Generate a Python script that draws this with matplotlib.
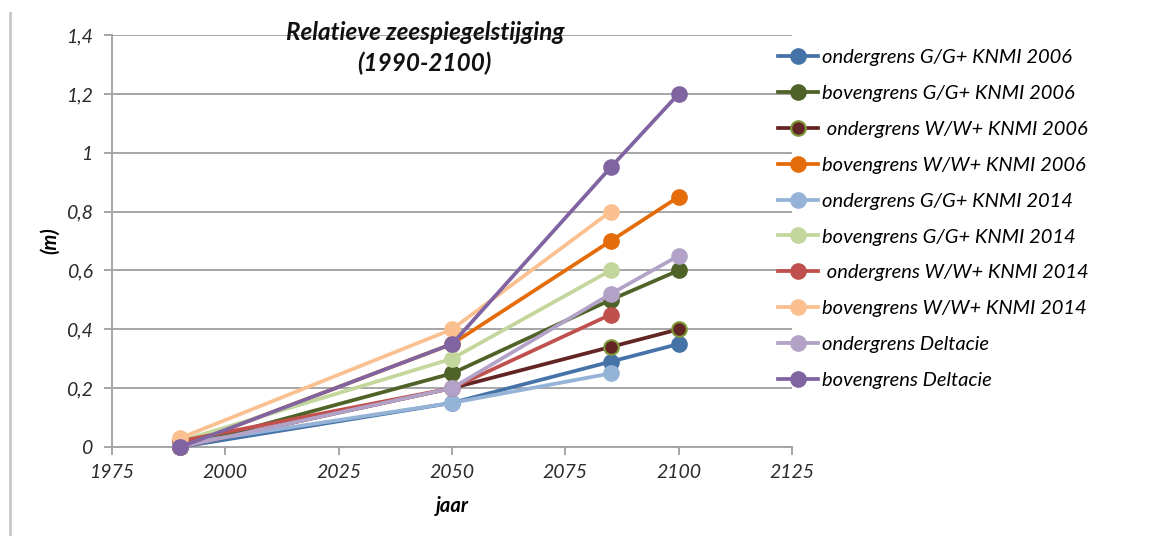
import matplotlib
matplotlib.use("Agg")
import matplotlib.pyplot as plt
from matplotlib.lines import Line2D
from matplotlib.ticker import FuncFormatter, MultipleLocator

plt.rcParams["font.family"] = ["Lato", "DejaVu Sans"]

# Relative sea level rise scenarios (m)
years_full = [1990, 2050, 2085, 2100]
years_2014 = [1990, 2050, 2085]

labels = [
    "ondergrens G/G+ KNMI 2006",
    "bovengrens G/G+ KNMI 2006",
    " ondergrens W/W+ KNMI 2006",
    "bovengrens W/W+ KNMI 2006",
    "ondergrens G/G+ KNMI 2014",
    "bovengrens G/G+ KNMI 2014",
    " ondergrens W/W+ KNMI 2014",
    "bovengrens W/W+ KNMI 2014",
    "ondergrens Deltacie",
    "bovengrens Deltacie",
]
onder_gg_2006 = [0.0, 0.15, 0.29, 0.35]
boven_gg_2006 = [0.0, 0.25, 0.50, 0.60]
onder_ww_2006 = [0.0, 0.20, 0.34, 0.40]
boven_ww_2006 = [0.0, 0.35, 0.70, 0.85]
onder_gg_2014 = [0.01, 0.15, 0.25]
boven_gg_2014 = [0.02, 0.30, 0.60]
onder_ww_2014 = [0.02, 0.20, 0.45]
boven_ww_2014 = [0.03, 0.40, 0.80]
onder_delta = [0.0, 0.20, 0.52, 0.65]
boven_delta = [0.0, 0.35, 0.95, 1.20]

series = [
    (years_full, onder_gg_2006, "#4573A8"),
    (years_full, boven_gg_2006, "#4F6228"),
    (years_full, onder_ww_2006, "#632523"),
    (years_full, boven_ww_2006, "#E46C0A"),
    (years_2014, onder_gg_2014, "#95B3D7"),
    (years_2014, boven_gg_2014, "#C3D69B"),
    (years_2014, onder_ww_2014, "#C0504D"),
    (years_2014, boven_ww_2014, "#FAC090"),
    (years_full, onder_delta, "#B3A2C7"),
    (years_full, boven_delta, "#8064A2"),
]

fig = plt.figure(figsize=(11.57, 5.36), dpi=100)
ax = fig.add_axes([0.0968, 0.166, 0.5877, 0.7687])

handles = []
for (x, y, c), lab in zip(series, labels):
    edge = "#7F9A3A" if c == "#632523" else c
    ln, = ax.plot(x, y, color=c, lw=2.7, marker="o", ms=10.5,
                  markerfacecolor=c, markeredgecolor=edge, markeredgewidth=1.5,
                  label=lab, clip_on=False, zorder=3)
    handles.append(ln)

ax.set_xlim(1975, 2125)
ax.set_ylim(0, 1.4)
ax.xaxis.set_major_locator(MultipleLocator(25))
ax.yaxis.set_major_locator(MultipleLocator(0.2))
ax.yaxis.set_major_formatter(FuncFormatter(
    lambda v, p: "0" if v == 0 else f"{v:.1f}".replace(".", ",").replace(",0", "")))

ax.grid(axis="y", color="#A6A6A6", lw=1.4)
ax.set_axisbelow(True)
for s in ["top", "right"]:
    ax.spines[s].set_visible(False)
for s in ["left", "bottom"]:
    ax.spines[s].set_color("#A6A6A6")
    ax.spines[s].set_linewidth(1.4)
ax.tick_params(axis="both", colors="#A6A6A6", width=1.4, length=6, labelcolor="#2B2B2B",
               labelsize=14)
for t in ax.get_xticklabels() + ax.get_yticklabels():
    t.set_style("italic")
ax.tick_params(axis="x", pad=6)
ax.tick_params(axis="y", pad=8)

ax.set_xlabel("jaar", fontsize=14.5, fontweight="bold", style="italic", va="top")
ax.xaxis.set_label_coords(0.5, -0.118)
ax.set_ylabel("(m)", fontsize=14.5, fontweight="bold", style="italic")
ax.yaxis.set_label_coords(-0.076, 0.5)

ax.text(0.46, 1.007, "Relatieve zeespiegelstijging", transform=ax.transAxes,
        ha="center", va="center", fontsize=17.5, fontweight="bold", style="italic",
        color="#111111")
ax.text(0.46, 0.932, "(1990-2100)", transform=ax.transAxes,
        ha="center", va="center", fontsize=17.5, fontweight="bold", style="italic",
        color="#111111")

fig.legend(handles=handles, loc="upper left", bbox_to_anchor=(0.672, 0.908),
           frameon=False, handlelength=2.0, handletextpad=0.2,
           labelspacing=0.93, borderpad=0, borderaxespad=0,
           prop={"style": "italic", "size": 14.5})

# thin border line along the left edge
fig.add_artist(Line2D([0.009, 0.009], [0.0, 0.975], color="#C8C8C8", lw=2))

fig.savefig("out.png", dpi=100)
